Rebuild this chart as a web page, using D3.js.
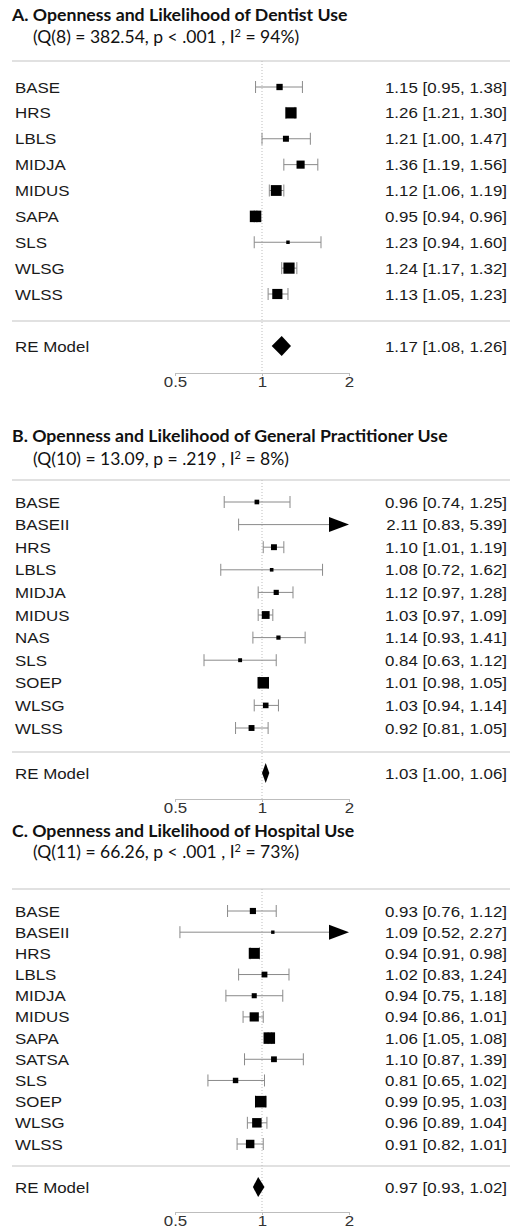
<!DOCTYPE html>
<html><head><meta charset="utf-8">
<script src="https://cdn.jsdelivr.net/npm/d3@7"></script>
<style>body{margin:0;background:#fff}svg{display:block}</style>
</head><body>
<script>
// ---------- DATA ----------
const titleA = "A. Openness and Likelihood of Dentist Use";
const statA = ["8", "382.54", "p < .001", "94"];
const studiesA = ["BASE","HRS","LBLS","MIDJA","MIDUS","SAPA","SLS","WLSG","WLSS"];
const estA = [1.15,1.26,1.21,1.36,1.12,0.95,1.23,1.24,1.13];
const lowA = [0.95,1.21,1.00,1.19,1.06,0.94,0.94,1.17,1.05];
const upA  = [1.38,1.30,1.47,1.56,1.19,0.96,1.60,1.32,1.23];
const wA   = [8.0,14.2,7.6,10.3,13.7,14.6,4.4,14.2,12.9];
const reA  = [1.17,1.08,1.26];

const titleB = "B. Openness and Likelihood of General Practitioner Use";
const statB = ["10", "13.09", "p = .219", "8"];
const studiesB = ["BASE","BASEII","HRS","LBLS","MIDJA","MIDUS","NAS","SLS","SOEP","WLSG","WLSS"];
const estB = [0.96,2.11,1.10,1.08,1.12,1.03,1.14,0.84,1.01,1.03,0.92];
const lowB = [0.74,0.83,1.01,0.72,0.97,0.97,0.93,0.63,0.98,0.94,0.81];
const upB  = [1.25,5.39,1.19,1.62,1.28,1.09,1.41,1.12,1.05,1.14,1.05];
const wB   = [7.7,3.3,9.8,6.0,8.6,13.0,7.0,6.5,19.1,9.3,9.8];
const reB  = [1.03,1.00,1.06];

const titleC = "C. Openness and Likelihood of Hospital Use";
const statC = ["11", "66.26", "p < .001", "73"];
const studiesC = ["BASE","BASEII","HRS","LBLS","MIDJA","MIDUS","SAPA","SATSA","SLS","SOEP","WLSG","WLSS"];
const estC = [0.93,1.09,0.94,1.02,0.94,0.94,1.06,1.10,0.81,0.99,0.96,0.91];
const lowC = [0.76,0.52,0.91,0.83,0.75,0.86,1.05,0.87,0.65,0.95,0.89,0.82];
const upC  = [1.12,2.27,0.98,1.24,1.18,1.01,1.08,1.39,1.02,1.03,1.04,1.01];
const wC   = [6.7,3.7,11.9,6.3,5.5,10.0,12.5,6.3,5.9,12.5,10.3,9.2];
const reC  = [0.97,0.93,1.02];

const tickValues = [0.5, 1, 2];
const tickLabels = ["0.5", "1", "2"];
const reLabel = "RE Model";

// ---------- LAYOUT ----------
const W = 510, H = 1231;
const FS = 15.5, SX = 1.09;
const LABEL_FONT = "'Liberation Sans', Arial, sans-serif";
const TITLE_FONT = "Lato, 'Open Sans', sans-serif";
const fmt = d3.format(".2f");

const svg = d3.select("body").append("svg").attr("width", W).attr("height", H);

const x = d3.scaleLog().base(2).domain([tickValues[0], tickValues[tickValues.length-1]]).range([175, 349]);

function txt(g, px, py, s, anchor) {
  return g.append("text")
    .attr("transform", `translate(${px},${py}) scale(${SX},1)`)
    .attr("text-anchor", anchor || "start")
    .attr("dy", "0.36em")
    .attr("font-family", LABEL_FONT)
    .attr("font-size", FS)
    .attr("fill", "#1a1a1a")
    .text(s);
}

const panels = [
  {title: titleA, stat: statA, st: studiesA, est: estA, lo: lowA, up: upA, w: wA, re: reA,
   L: {titleY: 21, subY: 43, sep1: 61, r0: 87, r1: 294, sep2: 321, reY: 346, axisY: 373}},
  {title: titleB, stat: statB, st: studiesB, est: estB, lo: lowB, up: upB, w: wB, re: reB,
   L: {titleY: 442, subY: 465, sep1: 480, r0: 502, r1: 728, sep2: 752, reY: 773, axisY: 799}},
  {title: titleC, stat: statC, st: studiesC, est: estC, lo: lowC, up: upC, w: wC, re: reC,
   L: {titleY: 837, subY: 858, sep1: 889, r0: 911, r1: 1144, sep2: 1166, reY: 1187, axisY: 1212}}
];

const xmin = tickValues[0], xmax = tickValues[tickValues.length-1];

panels.forEach(p => {
  const L = p.L;
  const g = svg.append("g");
  // titles
  g.append("text").attr("x", 12).attr("y", L.titleY)
    .attr("font-family", TITLE_FONT).attr("font-weight", 700).attr("font-size", 17.7)
    .attr("fill", "#111").text(p.title);
  const sub = g.append("text").attr("x", 33).attr("y", L.subY)
    .attr("font-family", TITLE_FONT).attr("font-size", 17.5).attr("fill", "#111");
  sub.append("tspan").text(`(Q(${p.stat[0]}) = ${p.stat[1]}, ${p.stat[2]} , I`);
  sub.append("tspan").attr("font-size", 11).attr("dy", -6).text("2");
  sub.append("tspan").attr("dy", 6).text(` = ${p.stat[3]}%)`);

  // separators
  [L.sep1, L.sep2].forEach(sy => g.append("line")
    .attr("x1", 12).attr("x2", W).attr("y1", sy).attr("y2", sy)
    .attr("stroke", "#c4c4c4").attr("stroke-width", 1.2));

  // reference line
  g.append("line").attr("x1", x(1)).attr("x2", x(1)).attr("y1", L.sep1).attr("y2", L.axisY)
    .attr("stroke", "#bdbdbd").attr("stroke-width", 1).attr("stroke-dasharray", "1,2");

  const y = d3.scalePoint().domain(p.st).range([L.r0, L.r1]);
  const sz = d3.scaleLinear().domain([0, d3.max(p.w)]).range([0, 11.5]);

  p.st.forEach((s, i) => {
    const yy = y(s);
    const lo = Math.max(p.lo[i], xmin), hi = Math.min(p.up[i], xmax);
    const arrowR = p.up[i] > xmax;
    const x1 = x(lo), x2 = x(hi);
    g.append("line").attr("x1", x1).attr("x2", arrowR ? x2 - 18 : x2).attr("y1", yy).attr("y2", yy)
      .attr("stroke", "#8a8a8a").attr("stroke-width", 1);
    if (p.lo[i] >= xmin) g.append("line").attr("x1", x1).attr("x2", x1).attr("y1", yy - 6).attr("y2", yy + 6)
      .attr("stroke", "#8a8a8a").attr("stroke-width", 1);
    if (!arrowR) g.append("line").attr("x1", x2).attr("x2", x2).attr("y1", yy - 6).attr("y2", yy + 6)
      .attr("stroke", "#8a8a8a").attr("stroke-width", 1);
    else g.append("path").attr("d", `M${x2},${yy} L${x2 - 20},${yy - 7.5} L${x2 - 20},${yy + 7.5} Z`).attr("fill", "#000");
    if (p.est[i] >= xmin && p.est[i] <= xmax) {
      const s2 = sz(p.w[i]);
      g.append("rect").attr("x", x(p.est[i]) - s2 / 2).attr("y", yy - s2 / 2)
        .attr("width", s2).attr("height", s2).attr("fill", "#000");
    }
    txt(g, 15, yy, s);
    txt(g, 507, yy, `${fmt(p.est[i])} [${fmt(p.lo[i])}, ${fmt(p.up[i])}]`, "end");
  });

  // RE model
  const [re, rl, ru] = p.re;
  g.append("path").attr("d",
    `M${x(rl)},${L.reY} L${x(re)},${L.reY - 10} L${x(ru)},${L.reY} L${x(re)},${L.reY + 10} Z`)
    .attr("fill", "#000");
  txt(g, 15, L.reY, reLabel);
  txt(g, 507, L.reY, `${fmt(re)} [${fmt(rl)}, ${fmt(ru)}]`, "end");

  // axis
  const ax = g.append("g").attr("transform", `translate(0,${L.axisY})`)
    .call(d3.axisBottom(x).tickValues(tickValues).tickFormat((d, i) => tickLabels[i])
      .tickSize(3).tickSizeOuter(0).tickPadding(0));
  ax.select(".domain").attr("stroke", "#bdbdbd");
  ax.selectAll(".tick line").attr("stroke", "#bdbdbd");
  ax.selectAll(".tick text").attr("font-family", LABEL_FONT).attr("font-size", FS)
    .attr("fill", "#333").attr("transform", `scale(${SX},1)`);
});
</script>
</body></html>
